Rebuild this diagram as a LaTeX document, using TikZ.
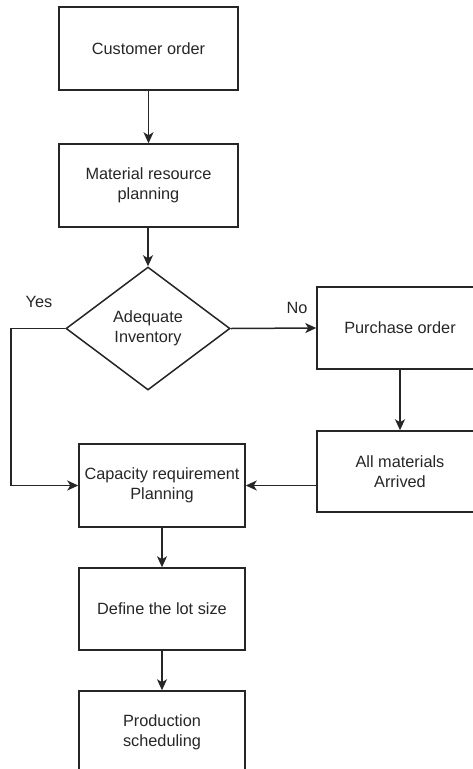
\documentclass[tikz,border=0pt]{standalone}
\usepackage{fontspec}
\setmainfont{Liberation Sans}
\usetikzlibrary{shapes.geometric,arrows.meta}
\begin{document}
\begin{tikzpicture}[x=1pt,y=-1pt,
  box/.style={draw=black!85, line width=1.5pt, rectangle, align=center, inner sep=0pt,
    font=\fontsize{16.3}{20}\selectfont, text=black!85},
  dec/.style={draw=black!85, line width=1.5pt, diamond, aspect=1.33, inner sep=0pt,
    minimum width=164pt, minimum height=123pt, align=center,
    font=\fontsize{16.3}{20}\selectfont, text=black!85},
  lbl/.style={font=\fontsize{16.3}{20}\selectfont, text=black!85, inner sep=0pt},
  conn/.style={draw=black!85, line width=1.5pt, -{Stealth[length=11pt,width=10pt,inset=3pt]}}
]
\useasboundingbox (0,0) rectangle (473,769);
\clip (0,0) rectangle (473,769);
\node[box, minimum width=179pt, minimum height=83pt] (cust) at (148.5,48.5) {Customer order};
\node[box, minimum width=179pt, minimum height=83pt] (mrp) at (148.5,185.5) {Material resource\\planning};
\node[dec] (adq) at (148,328.5) {Adequate\\Inventory};
\node[box, minimum width=166pt, minimum height=82pt] (po) at (400,328) {Purchase order};
\node[box, minimum width=166pt, minimum height=81pt] (arr) at (400,471.5) {All materials\\Arrived};
\node[box, minimum width=166pt, minimum height=83pt] (crp) at (162,485.5) {Capacity requirement\\Planning};
\node[box, minimum width=166pt, minimum height=82pt] (lot) at (162,609) {Define the lot size};
\node[box, minimum width=166pt, minimum height=82pt] (prod) at (162,732) {Production\\scheduling};
\coordinate (yc1) at (11,328.5);
\coordinate (yc2) at (11,485.5);
\node[lbl] (yes) at (39,302) {Yes};
\node[lbl] (no) at (297,308) {No};
\draw[conn] (cust) -- (mrp);
\draw[conn] (mrp.south -| adq.north) -- (adq.north);
\draw[conn] (adq.east) -- (po.west);
\draw[conn] (adq.west) -- (yc1) -- (yc2) -- (crp.west);
\draw[conn] (po) -- (arr);
\draw[conn] (arr.west |- crp.east) -- (crp.east);
\draw[conn] (crp) -- (lot);
\draw[conn] (lot) -- (prod);
\end{tikzpicture}
\end{document}
